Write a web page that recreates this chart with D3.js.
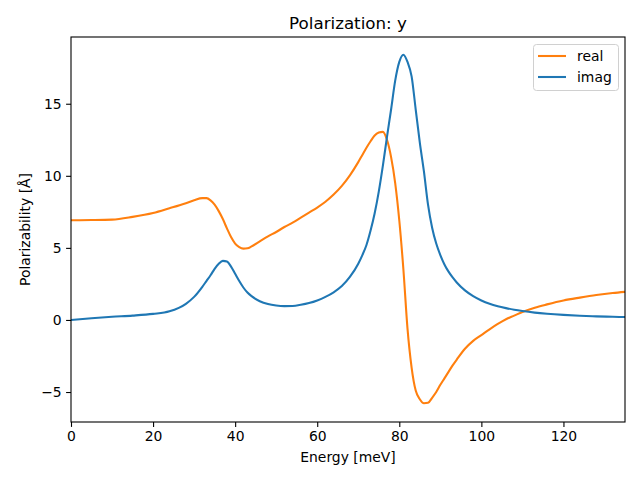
<!DOCTYPE html>
<html><head><meta charset="utf-8">
<script src="https://cdn.jsdelivr.net/npm/d3@7/dist/d3.min.js"></script>
<style>body{margin:0;background:#fff}svg text{font-family:"DejaVu Sans",sans-serif;fill:#000}</style>
</head><body><svg id="c" width="640" height="480"></svg>
<script>
const energy = [0,5,10,15,20,24,28,30,32,33,34,35,36,37,38,39,40,41,42,43,44,46,48,50,52,54,56,58,60,62,64,66,68,70,71,72,73,74,75,76,77,78,79,80,81,82,83,84,85,86,87,88,89,90,91,92,93,94,96,98,100,102,104,106,108,110,113,116,120,124,128,132,135];
const realVals = [6.92,6.93,6.96,7.15,7.42,7.75,8.1,8.3,8.45,8.45,8.3,8.0,7.55,7.0,6.35,5.75,5.3,5.05,4.95,4.97,5.1,5.45,5.8,6.1,6.45,6.75,7.1,7.45,7.8,8.2,8.7,9.3,10.05,10.95,11.45,11.95,12.4,12.8,13.0,13.05,12.5,11.3,9.5,6.9,3.5,-0.6,-3.3,-4.9,-5.5,-5.78,-5.75,-5.4,-5.0,-4.5,-4.05,-3.6,-3.15,-2.75,-2.0,-1.45,-1.05,-0.65,-0.28,0.05,0.3,0.55,0.85,1.08,1.35,1.55,1.73,1.87,1.95];
const imagVals = [0.0,0.12,0.22,0.3,0.42,0.6,1.12,1.6,2.3,2.7,3.1,3.55,3.9,4.1,4.05,3.7,3.2,2.7,2.25,1.9,1.65,1.3,1.1,1.0,0.96,0.97,1.05,1.17,1.35,1.6,1.92,2.35,3.0,3.9,4.5,5.2,6.2,7.4,8.9,10.7,12.7,14.6,16.6,17.9,18.4,17.9,16.9,14.6,12.3,10.3,8.0,6.4,5.3,4.5,3.85,3.35,2.95,2.6,2.05,1.65,1.35,1.12,0.95,0.82,0.71,0.62,0.51,0.43,0.35,0.29,0.25,0.22,0.2];
const xTicks = [0,20,40,60,80,100,120];
const yTicks = [-5,0,5,10,15];
const seriesNames = ["real","imag"];
const seriesColors = ["#ff7f0e","#1f77b4"];

const L=71,R=625,T=37,B=422;
const svg=d3.select("#c");
const x=d3.scaleLinear().domain([0,135]).range([L,R]);
const y=d3.scaleLinear().domain([-7.08,19.63]).range([B,T]);

const fmt=d=>String(d).replace("-","\u2212");
const xa=svg.append("g").attr("transform",`translate(0,${B})`)
  .call(d3.axisBottom(x).tickValues(xTicks).tickFormat(fmt).tickSize(4.9).tickPadding(4.5));
const ya=svg.append("g").attr("transform",`translate(${L},0)`)
  .call(d3.axisLeft(y).tickValues(yTicks).tickFormat(fmt).tickSize(4.9).tickPadding(4.5));
[xa,ya].forEach(a=>{a.select(".domain").remove();a.selectAll("text").attr("font-size","13.9px").attr("font-family","DejaVu Sans");a.selectAll("line").attr("stroke-width",1.1);});

const line=d3.line().x((d,i)=>x(energy[i])).y(d=>y(d)).curve(d3.curveMonotoneX);
const g=svg.append("g");
[realVals,imagVals].forEach((vals,k)=>{
  g.append("path").attr("d",line(vals)).attr("fill","none").attr("stroke",seriesColors[k]).attr("stroke-width",2.08).attr("stroke-linejoin","round");
});

svg.append("rect").attr("x",L).attr("y",T).attr("width",R-L).attr("height",B-T).attr("fill","none").attr("stroke","#000").attr("stroke-width",1.1);

svg.append("text").attr("x",(L+R)/2).attr("y",29).attr("text-anchor","middle").attr("font-size","16.7px").text("Polarization: y");
svg.append("text").attr("x",(L+R)/2).attr("y",462).attr("text-anchor","middle").attr("font-size","13.9px").text("Energy [meV]");
svg.append("text").attr("transform",`translate(30,${(T+B)/2}) rotate(-90)`).attr("text-anchor","middle").attr("font-size","13.9px").text("Polarizability [Å]");

const lg=svg.append("g");
lg.append("rect").attr("x",533.5).attr("y",44.5).attr("width",85).attr("height",46).attr("rx",3).attr("fill","#fff").attr("fill-opacity",0.8).attr("stroke","#d0d0d0").attr("stroke-width",1);
seriesNames.forEach((n,k)=>{
  const yy=56+k*21;
  lg.append("line").attr("x1",538).attr("x2",566).attr("y1",yy).attr("y2",yy).attr("stroke",seriesColors[k]).attr("stroke-width",2.08);
  lg.append("text").attr("x",577).attr("y",yy+5).attr("font-size","13.9px").text(n);
});
</script></body></html>
